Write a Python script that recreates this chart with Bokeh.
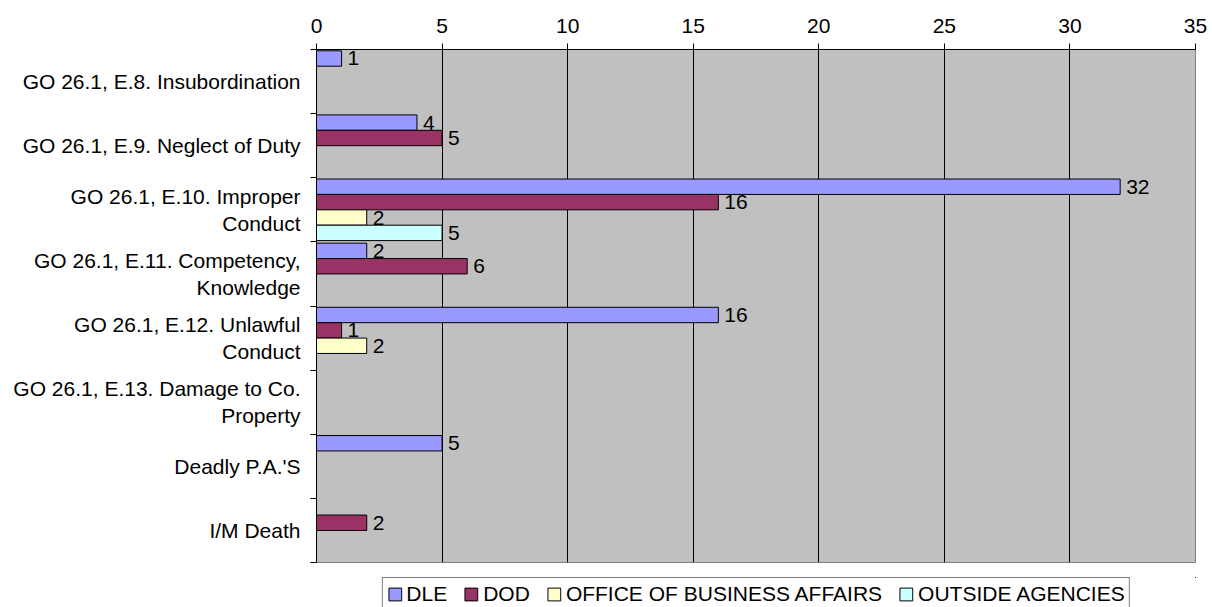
from bokeh.plotting import figure
from bokeh.layouts import column
from bokeh.models import Range1d, FixedTicker, ColumnDataSource, Legend, LegendItem
from bokeh.transform import dodge
from bokeh.core.properties import value
from bokeh.embed import file_html
from bokeh.resources import INLINE

# ---- data ----
categories = [
    "GO 26.1, E.8. Insubordination",
    "GO 26.1, E.9. Neglect of Duty",
    "GO 26.1, E.10. Improper\nConduct",
    "GO 26.1, E.11. Competency,\nKnowledge",
    "GO 26.1, E.12. Unlawful\nConduct",
    "GO 26.1, E.13. Damage to Co.\nProperty",
    "Deadly P.A.'S",
    "I/M Death",
]
series_names = ["DLE", "DOD", "OFFICE OF BUSINESS AFFAIRS", "OUTSIDE AGENCIES"]
dle = [1, 4, 32, 2, 16, 0, 5, 0]
dod = [0, 5, 16, 6, 1, 0, 0, 2]
oba = [0, 0, 2, 0, 2, 0, 0, 0]
outside = [0, 0, 5, 0, 0, 0, 0, 0]
x_ticks = [0, 5, 10, 15, 20, 25, 30, 35]

# ---- style ----
colors = ["#9999FF", "#993366", "#FFFFCC", "#CCFFFF"]
FONT = "Liberation Sans"
FS = "21px"

n = len(categories)
p = figure(width=1212, height=577, output_backend="svg", toolbar_location=None,
           x_range=Range1d(x_ticks[0], x_ticks[-1]), y_range=Range1d(n, 0),
           x_axis_location="above",
           min_border_left=316, min_border_right=17, min_border_top=49, min_border_bottom=15)

p.background_fill_color = "#C0C0C0"
p.border_fill_color = "white"
p.outline_line_color = "#808080"

# top axis
xa = p.xaxis[0]
xa.ticker = FixedTicker(ticks=x_ticks)
xa.major_tick_out = 6
xa.major_tick_in = 0
xa.minor_tick_out = 0
xa.minor_tick_in = 0
xa.axis_line_color = "black"
xa.major_tick_line_color = "black"
xa.major_label_text_font = FONT
xa.major_label_text_font_size = FS
xa.major_label_text_color = "black"
xa.major_label_standoff = 11

# left axis: labels at band centres, tick marks at band boundaries
centers = [i + 0.5 for i in range(n)]
ya = p.yaxis[0]
ya.ticker = FixedTicker(ticks=centers, minor_ticks=list(range(n + 1)))
ya.major_tick_out = 6
ya.major_tick_in = 0
ya.major_tick_line_color = None
ya.minor_tick_out = 6
ya.minor_tick_in = 0
ya.minor_tick_line_color = "black"
ya.axis_line_color = "black"
ya.major_label_overrides = {c: lab for c, lab in zip(centers, categories)}
ya.major_label_text_font = FONT
ya.major_label_text_font_size = FS
ya.major_label_text_color = "black"
ya.major_label_standoff = 10

p.xgrid.grid_line_color = "black"
p.xgrid.grid_line_width = 1
p.ygrid.grid_line_color = None

h = 0.24
offsets = [-1.5 * h, -0.5 * h, 0.5 * h, 1.5 * h]
sources = []
for name, vals, col, off in zip(series_names, [dle, dod, oba, outside], colors, offsets):
    idx = [i for i, v in enumerate(vals) if v]
    src = ColumnDataSource(dict(y=[centers[i] for i in idx],
                                v=[vals[i] for i in idx],
                                t=[str(vals[i]) for i in idx]))
    sources.append(src)
    p.hbar(y=dodge("y", off), left=0, right="v", height=h, source=src,
           fill_color=col, line_color="black", line_width=1)
    p.text(x="v", y=dodge("y", off), text="t", source=src, x_offset=6,
           text_baseline="middle", text_align="left", text_font=value(FONT),
           text_font_size=FS, text_color="black")

# ---- legend strip below the chart ----
# (same series drawn into a view range that shows none of them; only the legend is visible)
p2 = figure(width=1212, height=30, output_backend="svg", toolbar_location=None,
            x_axis_location=None, y_axis_location=None,
            x_range=Range1d(-100, -99), y_range=Range1d(-100, -99),
            min_border_left=316, min_border_right=17, min_border_top=0, min_border_bottom=0)
p2.outline_line_color = None
p2.background_fill_color = "white"
p2.border_fill_color = "white"
p2.xgrid.visible = False
p2.ygrid.visible = False

items = []
for name, col, src in zip(series_names, colors, sources):
    r = p2.hbar(y="y", left=0, right="v", height=h, source=src, fill_color=col,
                line_color="black", line_width=1)
    items.append(LegendItem(label=name, renderers=[r]))

legend = Legend(items=items, orientation="horizontal", location="top_center")
legend.border_line_color = "black"
legend.border_line_width = 1
legend.background_fill_color = "white"
legend.background_fill_alpha = 1
legend.label_text_font = FONT
legend.label_text_font_size = FS
legend.label_text_color = "black"
legend.glyph_width = 16
legend.glyph_height = 16
legend.label_standoff = 4
legend.spacing = 16
legend.padding = 4
legend.margin = 0
legend.label_height = 21
p2.add_layout(legend)

layout = column(p, p2, spacing=0)
open("out.html", "w").write(file_html(layout, INLINE))
